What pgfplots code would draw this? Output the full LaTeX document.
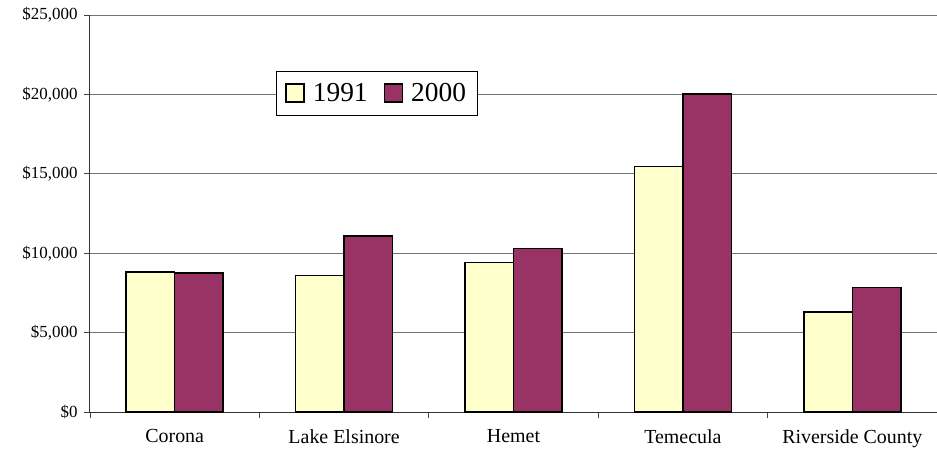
\documentclass[border=0pt]{standalone}
\usepackage{pgfplots}
\pgfplotsset{compat=1.18}
\usepackage{fontspec}
\setmainfont{Liberation Serif}
\definecolor{cyellow}{HTML}{FFFFCC}
\definecolor{cmaroon}{HTML}{993366}
\begin{document}
\begin{tikzpicture}
\useasboundingbox (-90bp,-44bp) rectangle (847bp,412bp);
\begin{axis}[
  at={(0,0)}, anchor=south west,
  scale only axis,
  width=847bp, height=397bp,
  ybar=0pt, bar width=48.5bp,
  xmin=-0.5, xmax=4.5,
  ymin=0, ymax=25000,
  ytick={0,5000,...,25000},
  scaled y ticks=false,
  xtick={0,1,2,3,4},
  xticklabels={Corona,Lake Elsinore,Hemet,Temecula,Riverside County},
  major x tick style={draw=none},
  minor xtick={-0.5,0.5,1.5,2.5,3.5,4.5},
  minor x tick style={draw=black!75, line width=0.8bp},
  minor tick length=6bp,
  major tick length=6bp,
  tick align=outside,
  ytick style={draw=black!75, line width=0.8bp},
  axis x line*=bottom, axis y line*=left,
  axis line style={draw=black!80, line width=1bp, -},
  ymajorgrids, grid style={draw=black!55, line width=0.9bp},
  /pgf/number format/assume math mode=true,
  /pgf/number format/1000 sep={,},
  yticklabel={\$\pgfmathprintnumber{\tick}},
  yticklabel style={font=\fontsize{17}{19}\selectfont, xshift=-3bp},
  xticklabel style={font=\fontsize{20}{22}\selectfont, yshift=-8bp},
  legend columns=2,
  legend style={at={(0.2196,0.859)}, anchor=north west, draw=black, line width=0.8bp,
    font=\fontsize{27.5}{30}\selectfont, inner xsep=9bp, inner ysep=10bp,
    /tikz/every odd column/.append style={column sep=6bp},
    /tikz/every even column/.append style={column sep=14bp}},
  legend cell align=left,
  legend image code/.code={\draw[#1, line width=1.5bp] (0bp,-9bp) rectangle (18bp,9bp);},
]
\addplot[fill=cyellow, draw=black, line width=1.5bp] coordinates {(0,8805) (1,8590) (2,9430) (3,15450) (4,6300)};
\addplot[fill=cmaroon, draw=black, line width=1.5bp] coordinates {(0,8760) (1,11090) (2,10310) (3,20025) (4,7855)};
\legend{1991,2000}
\end{axis}
\end{tikzpicture}
\end{document}
